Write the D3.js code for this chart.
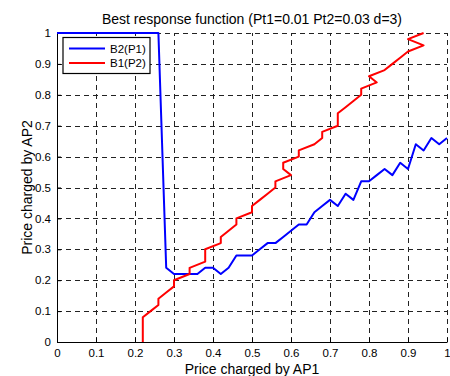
<!DOCTYPE html>
<html>
<head>
<meta charset="utf-8">
<script src="https://cdn.jsdelivr.net/npm/d3@7"></script>
<style>
  body { margin: 0; background: #fff; }
  svg { display: block; font-family: "Liberation Sans", Arial, sans-serif; }
</style>
</head>
<body>
<svg id="chart" width="450" height="376"></svg>
<script>
// best response curves, sampled every 0.02

// B2(P1): AP2's best price for each AP1 price
var p1 = [0, 0.02, 0.04, 0.06, 0.08, 0.10, 0.12, 0.14, 0.16, 0.18, 0.20, 0.22, 0.24, 0.26,
          0.28, 0.30, 0.32, 0.34, 0.36, 0.38, 0.40, 0.42, 0.44, 0.46, 0.48, 0.50, 0.52, 0.54,
          0.56, 0.58, 0.60, 0.62, 0.64, 0.66, 0.68, 0.70, 0.72, 0.74, 0.76, 0.78, 0.80, 0.82,
          0.84, 0.86, 0.88, 0.90, 0.92, 0.94, 0.96, 0.98, 1.00];
var b2 = [1, 1, 1, 1, 1, 1, 1, 1, 1, 1, 1, 1, 1, 1,
          0.24, 0.22, 0.22, 0.22, 0.22, 0.24, 0.24, 0.22, 0.24, 0.28, 0.28, 0.28, 0.30, 0.32,
          0.32, 0.34, 0.36, 0.38, 0.38, 0.42, 0.44, 0.46, 0.44, 0.48, 0.46, 0.52, 0.52, 0.54,
          0.56, 0.54, 0.58, 0.56, 0.64, 0.62, 0.66, 0.64, 0.66];

// B1(P2): AP1's best price for each AP2 price
var p2 = [0, 0.02, 0.04, 0.06, 0.08, 0.10, 0.12, 0.14, 0.16, 0.18, 0.20, 0.22, 0.24, 0.26,
          0.28, 0.30, 0.32, 0.34, 0.36, 0.38, 0.40, 0.42, 0.44, 0.46, 0.48, 0.50, 0.52, 0.54,
          0.56, 0.58, 0.60, 0.62, 0.64, 0.66, 0.68, 0.70, 0.72, 0.74, 0.76, 0.78, 0.80, 0.82,
          0.84, 0.86, 0.88, 0.90, 0.92, 0.94, 0.96, 0.98, 1.00];
var b1 = [0.22, 0.22, 0.22, 0.22, 0.22, 0.24, 0.26, 0.26, 0.28, 0.30, 0.30, 0.34, 0.34, 0.38,
          0.38, 0.38, 0.42, 0.42, 0.44, 0.46, 0.46, 0.50, 0.50, 0.52, 0.54, 0.56, 0.56, 0.60,
          0.58, 0.58, 0.62, 0.62, 0.66, 0.68, 0.68, 0.72, 0.72, 0.72, 0.74, 0.76, 0.78, 0.78,
          0.82, 0.80, 0.84, 0.86, 0.88, 0.90, 0.94, 0.90, 0.94];

var ticks = [0, 0.1, 0.2, 0.3, 0.4, 0.5, 0.6, 0.7, 0.8, 0.9, 1];
var tickLabels = ["0", "0.1", "0.2", "0.3", "0.4", "0.5", "0.6", "0.7", "0.8", "0.9", "1"];
var seriesNames = ["B2(P1)", "B1(P2)"];
var seriesColors = ["#0000ff", "#ff0000"];

var title_text = "Best response function (Pt1=0.01 Pt2=0.03 d=3)";
var x_title = "Price charged by AP1";
var y_title = "Price charged by AP2";

// plot box
var box_l = 57, box_r = 447, box_t = 33, box_b = 342;

var svg = d3.select("#chart");

var x = d3.scaleLinear().domain([0, 1]).range([box_l, box_r]);
var y = d3.scaleLinear().domain([0, 1]).range([box_b, box_t]);

// dashed grid
var grid = svg.append("g")
    .attr("stroke", "#222")
    .attr("stroke-width", 1)
    .attr("stroke-dasharray", "5,4");

grid.selectAll(".vg")
  .data(ticks.slice(1))
  .enter().append("line")
    .attr("x1", function(d) { return Math.round(x(d)) + 0.5; })
    .attr("x2", function(d) { return Math.round(x(d)) + 0.5; })
    .attr("y1", box_b)
    .attr("y2", box_t);

grid.selectAll(".hg")
  .data(ticks.slice(1))
  .enter().append("line")
    .attr("y1", function(d) { return Math.round(y(d)) + 0.5; })
    .attr("y2", function(d) { return Math.round(y(d)) + 0.5; })
    .attr("x1", box_l)
    .attr("x2", box_r);

// axes, ticks pointing inward like matlab
var fmt = function(d, i) { return tickLabels[i]; };

var xAxis = svg.append("g")
    .attr("transform", "translate(0," + box_b + ")")
    .call(d3.axisBottom(x).tickValues(ticks).tickFormat(fmt)
          .tickSizeInner(-4).tickSizeOuter(0).tickPadding(7));

var yAxis = svg.append("g")
    .attr("transform", "translate(" + box_l + ",0)")
    .call(d3.axisLeft(y).tickValues(ticks).tickFormat(fmt)
          .tickSizeInner(-4).tickSizeOuter(0).tickPadding(6));

[xAxis, yAxis].forEach(function(a) {
  a.selectAll("text")
    .style("font-family", "'Liberation Sans', Arial, sans-serif")
    .style("font-size", "11.5px")
    .attr("fill", "#000");
  a.selectAll("line").attr("stroke", "#000");
  a.select(".domain").attr("stroke", "#000");
});

// curves
var line = d3.line()
    .x(function(d) { return x(d[0]); })
    .y(function(d) { return y(d[1]); });

var blueData = p1.map(function(v, i) { return [v, b2[i]]; });
var redData = p2.map(function(v, i) { return [b1[i], v]; });

svg.append("path")
    .datum(blueData)
    .attr("d", line)
    .attr("fill", "none")
    .attr("stroke", seriesColors[0])
    .attr("stroke-width", 2)
    .attr("stroke-linejoin", "round");

svg.append("path")
    .datum(redData)
    .attr("d", line)
    .attr("fill", "none")
    .attr("stroke", seriesColors[1])
    .attr("stroke-width", 2)
    .attr("stroke-linejoin", "round");

// legend
var lg = svg.append("g");
lg.append("rect")
    .attr("x", 63)
    .attr("y", 37.5)
    .attr("width", 87)
    .attr("height", 36)
    .attr("fill", "#fff")
    .attr("stroke", "#000")
    .attr("stroke-width", 1.2);

seriesNames.forEach(function(name, i) {
  var ly = 48.5 + i * 14.5;
  lg.append("line")
    .attr("x1", 69).attr("x2", 105)
    .attr("y1", ly).attr("y2", ly)
    .attr("stroke", seriesColors[i])
    .attr("stroke-width", 2);
  lg.append("text")
    .attr("x", 110)
    .attr("y", ly + 4)
    .style("font-size", "11.5px")
    .text(name);
});

// title and axis labels
svg.append("text")
    .attr("x", (box_l + box_r) / 2)
    .attr("y", 24)
    .style("text-anchor", "middle")
    .style("font-size", "14px")
    .text(title_text);

svg.append("text")
    .attr("x", (box_l + box_r) / 2)
    .attr("y", 374)
    .style("text-anchor", "middle")
    .style("font-size", "14px")
    .text(x_title);

svg.append("text")
    .attr("transform", "translate(31.5," + ((box_t + box_b) / 2) + ") rotate(-90)")
    .style("text-anchor", "middle")
    .style("font-size", "14px")
    .text(y_title);
</script>
</body>
</html>
